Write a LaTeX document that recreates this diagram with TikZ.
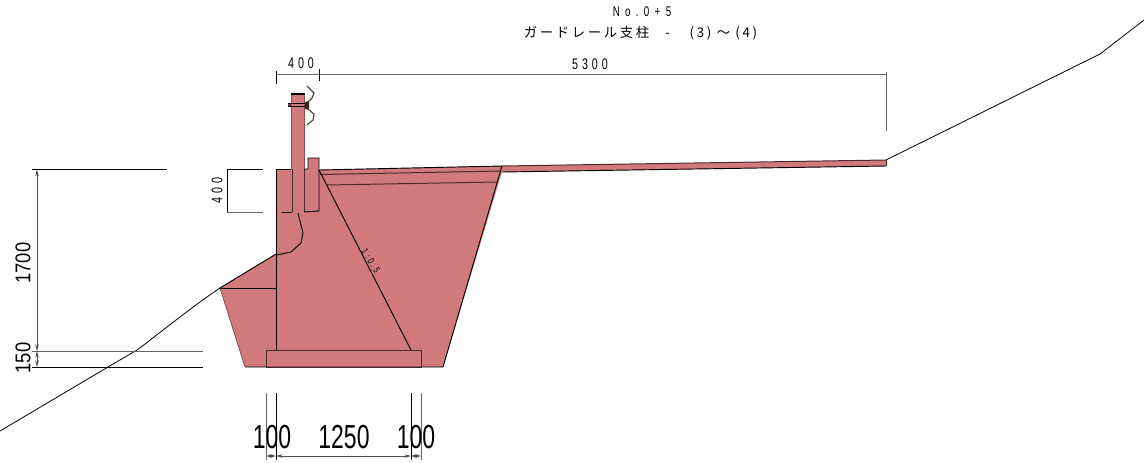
\documentclass[tikz,border=0pt]{standalone}
\usepackage{fontspec}
\usepackage{graphicx}
\usetikzlibrary{arrows.meta}
\setmainfont{Liberation Sans}
\newfontfamily\cjkspaced[LetterSpace=20]{Noto Sans CJK JP}
\newfontfamily\latspaced[LetterSpace=26,FakeStretch=0.7]{Liberation Sans}
\newfontfamily\latwide[LetterSpace=38,FakeStretch=0.7]{Liberation Sans}
\tikzset{
  px/.style={x=0.75pt,y=-0.75pt},
  ln/.style={draw=black,line width=0.7pt},
  thin ln/.style={draw=black,line width=0.6pt},
  dim/.style={draw=black!60,line width=0.75pt},
  dimarrow/.style={draw=black!70,line width=0.5pt,{Stealth[length=5pt,width=2.6pt]}-{Stealth[length=5pt,width=2.6pt]}},
  soft ln/.style={draw=black!65!bodycol,line width=0.75pt},
  faint ln/.style={draw=black!35!bodycol,line width=0.6pt},
  small dim/.style={font=\latspaced\fontsize{11.5pt}{13pt}\selectfont,inner sep=0pt},
  mid dim/.style={font=\fontsize{16pt}{18pt}\selectfont,inner sep=0pt,rotate=90},
  big dim/.style={font=\fontsize{25pt}{28pt}\selectfont,inner sep=0pt},
  rail/.style={draw=black!55!bodycol,line width=0.85pt},
}
\definecolor{bodycol}{RGB}{208,122,124}
\begin{document}
\begin{tikzpicture}[px]
\useasboundingbox (0,0) rectangle (1144,462);
% coloured body
\fill[bodycol] (220,288) -- (276,254) -- (276,169) -- (291,169) -- (291,94) -- (304,94) -- (304,169) -- (308,169) -- (308,158) -- (319,158) -- (319,170) -- (502,166) -- (886,160) -- (886,166) -- (502,172) -- (443,367) -- (245,367) -- cycle;
% outline of embankment
\draw[ln] (220,288) -- (276,254);
\draw[ln] (276,169) -- (276,350);
\draw[ln] (220,288) -- (276,288);
\draw[ln] (276,169) -- (291,169);
\draw[soft ln] (292,169) -- (292,212);
\draw[ln] (292,212) -- (282,212);
\draw[faint ln] (291,94) -- (291,169);
\draw[faint ln] (304,94) -- (304,169);
\draw[soft ln] (304,169) -- (304,212);
\draw[ln] (304,169) -- (308,169) -- (308,158) -- (319,158) -- (319,211) -- (304,212);
\draw[ln] (298,213) -- (303,233) -- (301,243) -- (291,252) -- (276.5,255);
\draw[ln] (319,170) -- (502,166);
\draw[soft ln] (502,166) -- (886,160);
\draw[ln] (502,172) -- (886,166);
\draw[soft ln] (886,160) -- (886,166);
\draw[soft ln] (320,174.5) -- (501,171);
\draw[soft ln] (327,185) -- (497,182);
\draw[ln] (502,166) -- (443,367) -- (245,367);
\draw[faint ln] (245,367) -- (220,288);
\draw[ln] (319,170) -- (411,350);
\draw[soft ln] (266,350) rectangle (421,367);
% guard rail
\draw[draw=black,line width=1.2pt] (291,94) -- (305,94);
\fill[black!45!bodycol] (287.5,102.5) rectangle (291,107);
\draw[draw=black,line width=0.7pt] (288,103) -- (305,103);
\draw[draw=black,line width=0.7pt] (288,106) -- (305,106);
\fill[black!70!bodycol] (305,102) -- (309,101) -- (309,110) -- (305,109) -- cycle;
\draw[rail] (307,86) -- (314,93) -- (312,98) -- (309,101);
\draw[rail] (309,110) -- (314,114) -- (313,120) -- (307,125);
% terrain
\draw[thin ln] (0,431) -- (108,367) -- (137,350) .. controls (160,333) and (190,308) .. (220,288);
\draw[thin ln] (886,160) -- (1100,54) -- (1144,20);
% top dimension
\draw[dim] (276,74) -- (886,74);
\draw[ln] (276,71) -- (276,84);
\draw[ln] (319,69) -- (319,81);
\draw[dim] (886,72) -- (886,131);
\node[small dim] (d400top) at (301,63.5) {400};
\node[small dim] (d5300) at (590,64.5) {5300};
% left 400 dimension
\draw[ln] (227,169.5) -- (263,169.5);
\draw[dim] (227,212) -- (263,212);
\draw[ln] (227.5,169.5) -- (227.5,212);
\node[small dim,rotate=90] (d400left) at (217,190.5) {400};
% height dimensions
\draw[ln] (32,169.5) -- (167,169.5);
\draw[dim] (32,351) -- (203,351);
\draw[ln] (32,367) -- (203,367);
\draw[dimarrow] (37,169.5) -- (37,351);
\draw[dimarrow] (37,351) -- (37,367);
\node[mid dim] (d1700) at (23,263) {\scalebox{0.86}[1]{1700}};
\node[mid dim] (d150) at (23,358) {\scalebox{0.86}[1]{150}};
% bottom dimensions
\foreach \xx in {266,421} \draw[dim] (\xx,393) -- (\xx,460);
\foreach \xx in {276,411} \draw[ln] (\xx,393) -- (\xx,460);
\draw[dimarrow] (266,456) -- (276,456);
\draw[dimarrow] (276,456) -- (411,456);
\draw[dimarrow] (411,456) -- (421,456);
\node[big dim] (b100a) at (272,437) {\scalebox{0.69}[1]{100}};
\node[big dim] (b1250) at (344,437) {\scalebox{0.69}[1]{1250}};
\node[big dim] (b100b) at (416,437) {\scalebox{0.69}[1]{100}};
% slope label
\node[font=\latspaced\fontsize{7.5pt}{9pt}\selectfont,inner sep=0pt,rotate=-58] (slope) at (371,261) {1:0.5};
% title
\node[font=\latwide\fontsize{10.5pt}{12pt}\selectfont,inner sep=0pt] (t1) at (642,12) {No.0+5};
\node[font=\cjkspaced\fontsize{10pt}{12pt}\selectfont,inner sep=0pt] (t2) at (640.5,33) {ガードレール支柱\hspace{12pt}-\hspace{15pt}(3)\hspace{4pt}\symbol{"FF5E}\hspace{4pt}(4)};
\end{tikzpicture}
\end{document}
